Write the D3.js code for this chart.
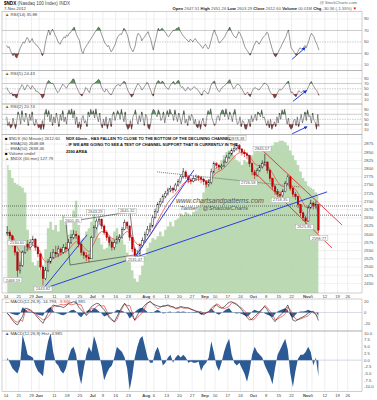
<!DOCTYPE html>
<html>
<head>
<meta charset="utf-8">
<script src="https://cdn.jsdelivr.net/npm/d3@7"></script>
<style>
  body { margin: 0; background: #fff; }
  svg text { font-family: "Liberation Sans", Arial, sans-serif; }
</style>
</head>
<body>
<div id="chart"></div>
<script>
// values, one per trading day (May 14 .. Nov 7 2012)
const holidays = ["2012-05-28", "2012-07-04", "2012-09-03", "2012-10-29", "2012-10-30", "2012-11-22"];

const closes = [2605,2595,2570,2545,2490,2505,2545,2570,2560,2575,
  2585,2560,2540,2500,2465,2490,2515,2530,2545,2540,
  2555,2545,2560,2555,2575,2590,2600,2595,2570,2545,
  2535,2530,2525,2590,2620,2640,2645,2625,2605,2590,
  2575,2560,2575,2585,2590,2615,2635,2625,2590,2555,
  2535,2540,2565,2580,2600,2615,2625,2650,2670,2690,
  2700,2715,2725,2735,2740,2735,2750,2760,2775,2790,
  2775,2765,2762,2770,2775,2772,2768,2760,2752,2758,
  2790,2815,2810,2805,2808,2820,2835,2845,2855,2862,
  2870,2860,2850,2845,2840,2815,2790,2780,2795,2805,
  2815,2820,2795,2770,2745,2730,2722,2718,2730,2755,
  2775,2740,2722,2715,2690,2665,2650,2640,2680,2695,
  2688,2690,2612.6];
const highs = [2625,2612,2598,2575,2548,2515,2550,2580,2582,2585,
  2595,2588,2565,2540,2505,2500,2525,2545,2555,2565,
  2565,2560,2570,2575,2585,2600,2612,2610,2598,2575,
  2550,2545,2540,2595,2628,2648,2652,2648,2630,2612,
  2595,2580,2582,2595,2600,2622,2645,2640,2628,2592,
  2560,2550,2572,2590,2608,2625,2635,2658,2678,2698,
  2710,2722,2732,2742,2748,2745,2756,2768,2782,2802,
  2795,2780,2772,2778,2782,2780,2778,2772,2765,2768,
  2800,2822,2820,2815,2815,2828,2842,2852,2862,2870,
  2878,2875,2862,2858,2850,2842,2818,2795,2802,2812,
  2825,2845,2822,2798,2772,2750,2738,2730,2738,2762,
  2782,2778,2745,2728,2718,2692,2668,2655,2688,2705,
  2700,2700,2692];
const lows = [2595,2585,2562,2535,2470,2480,2500,2540,2548,2552,
  2565,2550,2530,2490,2444,2460,2485,2510,2525,2530,
  2530,2535,2540,2545,2550,2570,2585,2585,2560,2535,
  2525,2518,2515,2525,2590,2615,2630,2615,2598,2580,
  2565,2550,2552,2570,2575,2585,2612,2615,2580,2545,
  2525,2522,2535,2560,2575,2595,2605,2620,2648,2665,
  2685,2695,2710,2718,2728,2725,2730,2745,2755,2770,
  2768,2755,2752,2758,2762,2762,2755,2750,2742,2745,
  2752,2785,2800,2795,2798,2805,2818,2830,2840,2850,
  2855,2850,2840,2835,2828,2805,2780,2768,2775,2790,
  2800,2808,2785,2760,2735,2720,2712,2710,2712,2728,
  2750,2732,2712,2705,2680,2655,2640,2626,2638,2678,
  2675,2678,2603];
// green overlay indicator behind price (0-100 panel scale)
const shade = [79,76,71,68,67,66,65,62,39,27,
  19,17,20,14,15,27,40,44,39,42,
  38,45,48,42,36,39,51,57,42,33,
  34,38,40,44,51,42,34,30,27,28,
  31,34,38,40,36,33,30,25,19,14,
  9,7,11,17,23,28,31,34,33,35,
  38,35,39,41,44,41,45,46,49,48,
  50,49,48,50,51,54,57,62,67,70,
  72,75,77,79,82,85,87,88,87,85,
  82,81,79,82,81,83,85,87,88,87,
  88,90,88,90,91,93,93,94,94,93,
  91,88,85,82,79,75,71,69,66,65,
  64,62,60];
// RSI panels: two readings per day
const rsi14 = [44,40,42,35,30,26,31,24,22,28,36,41,46,50,48,53,58,55,49,52,
  56,50,48,45,44,40,38,33,26,30,44,55,64,71,62,69,72,68,62,58,
  52,48,46,52,55,59,57,62,60,65,66,70,73,76,68,62,57,53,42,33,
  30,38,41,45,48,52,55,59,62,66,69,72,76,74,66,60,54,48,46,42,
  44,38,33,36,41,45,52,59,61,64,63,68,74,71,66,60,50,41,37,33,
  38,45,58,65,63,60,52,56,58,62,65,68,60,55,45,36,47,55,66,74,
  69,72,74,71,68,65,61,59,62,66,68,71,70,73,74,76,70,66,62,59,
  57,55,52,50,55,53,50,54,56,52,49,47,45,41,39,44,46,42,38,41,
  50,58,66,71,64,60,52,48,51,53,56,59,64,68,72,76,70,65,61,59,
  57,62,68,65,60,55,47,41,37,34,30,27,33,38,44,48,52,49,46,50,
  54,58,60,62,67,65,56,48,40,33,27,24,28,32,37,41,46,50,55,59,
  66,71,56,41,37,34,30,27,31,36,40,38,37,41,44,40,46,52,60,65,
  62,59,52,48,42,35.9];
const rsi5 = [55,45,38,30,35,22,28,18,15,35,48,55,66,60,45,52,65,62,55,48,
  62,55,50,40,42,35,32,25,14,20,45,60,75,82,76,70,72,65,55,45,
  35,40,50,58,68,62,58,52,62,70,74,80,88,85,68,55,45,35,28,22,
  32,40,55,50,42,35,55,65,68,72,76,80,86,82,62,50,42,38,50,45,
  36,30,28,35,48,55,62,65,66,60,68,72,79,75,58,45,35,28,18,25,
  40,50,62,70,64,58,45,50,58,65,74,70,56,45,30,22,48,62,75,82,
  76,70,80,75,62,55,52,48,60,68,74,78,66,72,80,82,64,55,58,50,
  42,45,56,52,44,48,54,58,55,50,44,40,30,25,38,45,40,35,30,42,
  60,70,76,80,62,50,42,38,48,55,58,62,68,72,80,85,70,60,50,55,
  62,68,66,62,52,45,35,28,32,38,26,20,35,45,52,55,50,48,45,52,
  58,65,72,70,66,62,45,35,30,25,15,18,30,40,48,45,50,55,62,68,
  75,80,55,35,38,30,24,20,32,42,40,35,40,45,36,40,50,60,72,78,
  66,58,50,45,35,24.4];
const rsi2 = [60,25,40,15,20,55,30,12,45,80,65,30,85,50,40,75,55,25,70,45,80,35,25,50,30,15,
  20,8,45,10,75,90,60,85,40,70,25,60,35,75,50,20,70,45,85,40,60,30,75,88,
  70,92,55,85,30,60,15,40,10,55,65,35,45,20,80,60,90,70,85,55,92,60,40,75,
  30,15,50,25,60,12,35,55,20,70,80,45,65,85,75,50,90,65,40,80,25,10,15,45,
  10,60,70,88,50,30,65,40,80,55,25,70,60,15,10,35,75,90,85,70,60,88,75,45,
  55,80,35,65,85,60,90,75,70,45,88,60,40,75,55,30,60,85,35,50,25,65,45,70,
  60,30,50,20,15,45,10,40,55,25,20,60,85,70,92,55,40,25,30,60,65,45,75,88,
  85,60,92,70,50,80,65,40,75,90,55,30,35,60,20,45,40,12,10,30,50,20,65,40,
  55,70,45,80,75,60,88,55,60,40,25,45,15,50,10,25,40,20,60,35,75,50,88,70,
  90,60,30,55,20,10,15,45,50,25,60,20,45,70,35,55,80,45,88,60,65,35,75,45,40,10,70,20.7];
const macdLine = [-1,-7,-14,-20,-23,-15,-7,8,7,5,
  1,-4,-10,-15,-20,-10,-1,8,14,12,
  11,11,9,12,17,18,20,19,10,5,
  0,-4,4,11,14,17,16,10,5,-2,
  -10,-14,-17,-8,2,10,17,10,2,-6,
  -14,-5,4,8,14,18,20,16,14,12,
  11,11,12,14,12,10,8,9,11,10,
  9,8,6,4,2,1,-2,-4,-1,2,
  8,12,14,10,8,10,15,19,20,17,
  14,10,5,-2,-9,-14,-12,-7,-3,2,
  7,11,5,-4,-11,-17,-10,-5,-1,6,
  14,0,-14,-16,-13,-10,-8,-5,-1,2,
  1,-3,-14.8];
const macdHist = [1,-1,-3,-4,-5,-2,9.5,6,2,1.5,
  1,-2,-4,-5,-6,2,7,10,3,-1,
  -2,-4,-5,-3,1,4,5,2,-5,-9,
  -3,2,5,3,9,6,2,-2,-7.5,-5,
  -3,-2,1,5,4,3,1,-3,-11,-6,
  1,5,8,9,5,1,-1,-1,3,5,
  2,-2,-1,1,2,-1,1,2,1,2,
  1,-1,-0.5,-1,-1,-0.5,-4,-2,-1,1,
  7,3,-2,-4,-1,3,6,8,2,-1,
  -2,-1,-3,-5,-8,-4,2,5,3,2,
  1,-2,-4,-6,-9,-3,2,4,6,8,
  4,-5,-10,-4,0.5,2,2,3,5,3,
  -2,1,-6];

const tickDates = ["2012-05-14","2012-05-21","2012-05-29","2012-06-01","2012-06-11","2012-06-18","2012-06-25",
  "2012-07-02","2012-07-09","2012-07-16","2012-07-23","2012-08-01","2012-08-06","2012-08-13","2012-08-20",
  "2012-08-27","2012-09-04","2012-09-10","2012-09-17","2012-09-24","2012-10-01","2012-10-08","2012-10-15",
  "2012-10-22","2012-11-01","2012-11-05","2012-11-12","2012-11-19","2012-11-26"];
const tickText = ["14","21","29","Jun","11","18","25","Jul","9","16","23","Aug","6","13","20",
  "27","Sep","10","17","24","Oct","8","15","22","Nov","5","12","19","26"];
const priceTicks = [2875,2850,2825,2800,2775,2750,2725,2700,2675,2650,2625,2600,2575,2550,2525,2500,2475,2450];
const rsiTicks = [90,70,50,30,10];
const macdTicks = [20,0,-20];
const histTicks = [10,7.5,5,2.5,0,-2.5,-5,-7.5,-10];

// price labels on the chart: day index, price, text
const noteIdx = [90.6,100.4,4.3,2.7,14.5,26,35,47.5,50.6,107.5,117,122.7,95];
const notePrice = [2893,2860,2573,2460,2433,2643,2668,2671,2524,2704,2622,2588,2756];
const noteText = ["2878.38","2845.57","2530.60","2468.59","2443.82","2601.35","2643.29","2645.32","2531.47","2718.35","2625.81","2598.77","2726.58"];

// hand-drawn lines: [day, price, day, price]
const blueLines = [[14.5,2433,31.8,2598],[14.5,2433,125.9,2729],[50.6,2530,73.7,2796]];
const redLines = [[100.4,2857,131.8,2628],[97.3,2790,127.8,2558]];
const boxPts = [[23.5,2637],[48.6,2668],[50.6,2537],[25.1,2506]];
const dotLevels = [2686,2658];
const dotLines = [[59.2,2790,115.3,2744]];
const rsiArrows = [[112.2,20,117.3,40],[112.5,2,117.8,43],[112.2,-8,118,20]];

// ---- trading day calendar ----
const days = [];
for (let d = new Date(Date.UTC(2012,4,14)); d <= new Date(Date.UTC(2012,10,30)); d.setUTCDate(d.getUTCDate()+1)) {
  const s = d.toISOString().slice(0,10), wd = d.getUTCDay();
  if (wd === 0 || wd === 6 || holidays.includes(s)) continue;
  days.push(s);
}
const tickIdx = tickDates.map(s => days.indexOf(s));

const L = 2, R = 362;
const x = d3.scaleLinear().domain([-1.57, 139.6]).range([L, R]);
const mid = i => x(i + 0.5);
const half = i => x(i / 2 + 0.25);

const svg = d3.select("#chart").append("svg")
  .attr("width", 377).attr("height", 400).style("display", "block");
const defs = svg.append("defs");
defs.append("marker").attr("id","arr").attr("viewBox","0 0 10 10").attr("refX",8).attr("refY",5)
  .attr("markerWidth",4).attr("markerHeight",4).attr("orient","auto")
  .append("path").attr("d","M0,0L10,5L0,10z").attr("fill","#1030e0");

let clipN = 0;
function panel(y0, y1) {
  const id = "c" + (clipN++);
  defs.append("clipPath").attr("id", id).append("rect")
    .attr("x", L).attr("y", y0).attr("width", R - L).attr("height", y1 - y0);
  const g = svg.append("g").attr("clip-path", `url(#${id})`);
  g.selectAll(null).data(tickIdx).join("line")
    .attr("x1", d => x(d)).attr("x2", d => x(d)).attr("y1", y0).attr("y2", y1)
    .attr("stroke", "#dedede").attr("stroke-width", 0.5);
  return g;
}
function frame(y0, y1) {
  svg.append("rect").attr("x", L).attr("y", y0).attr("width", R - L).attr("height", y1 - y0)
    .attr("fill", "none").attr("stroke", "#a0a0a0").attr("stroke-width", 0.5);
}
function rightLabels(vals, y, fmt) {
  svg.append("g").selectAll("text").data(vals).join("text")
    .attr("x", 364).attr("y", d => y(d)).attr("dy", "0.35em")
    .attr("font-size", 4.2).attr("fill", "#555").text(fmt || (d => d));
}
function hline(g, y, color, dash) {
  g.append("line").attr("x1", L).attr("x2", R).attr("y1", y).attr("y2", y)
    .attr("stroke", color).attr("stroke-width", 0.5).attr("stroke-dasharray", dash || null);
}
function legend(y, parts) {
  const t = svg.append("text").attr("x", 5).attr("y", y).attr("font-size", 4.3);
  parts.forEach(p => t.append("tspan").attr("fill", p[1]).attr("font-weight", p[2] ? "bold" : null).text(p[0]));
}

// ---- header ----
svg.append("text").attr("x", 4).attr("y", 5).attr("font-size", 4.6)
  .call(t => { t.append("tspan").attr("font-weight","bold").text("$NDX "); t.append("tspan").attr("fill","#444").text("(Nasdaq 100 Index)  INDX"); });
svg.append("text").attr("x", 4).attr("y", 10).attr("font-size", 4.2).attr("fill","#444").text("7-Nov-2012");
svg.append("text").attr("x", 357).attr("y", 4).attr("font-size", 4.2).attr("fill","#666").attr("text-anchor","end").text("@ StockCharts.com");
const hdr = svg.append("text").attr("x", 357).attr("y", 10).attr("font-size", 4.2).attr("text-anchor","end");
[["Open ",1],["2647.51  ",0],["High ",1],["2651.26  ",0],["Low ",1],["2603.29  ",0],["Close ",1],["2612.60  ",0],
 ["Volume ",1],["00.01M  ",0],["Chg ",1],["-30.36 (-1.55%) ",0]].forEach(p =>
  hdr.append("tspan").attr("font-weight", p[1] ? "bold" : null).attr("fill", p[1] ? "#222" : "#555").text(p[0]));
hdr.append("tspan").attr("fill","#d00").text("▼");

// ---- RSI panels ----
function rsiPanel(vals, pos, y, y0, y1, title, arrow) {
  const g = panel(y0, y1);
  hline(g, y(90), "#e4e4e4"); hline(g, y(10), "#e4e4e4");
  hline(g, y(70), "#9a9a9a"); hline(g, y(30), "#9a9a9a"); hline(g, y(50), "#9a9a9a", "1.5,1");
  g.append("path").datum(vals).attr("fill", "#5e925e")
    .attr("d", d3.area().x((d, i) => pos(i)).y0(y(70)).y1(d => y(Math.max(d, 70))));
  g.append("path").datum(vals).attr("fill", "#923c3c")
    .attr("d", d3.area().x((d, i) => pos(i)).y0(y(30)).y1(d => y(Math.min(d, 30))));
  g.append("path").datum(vals).attr("fill", "none").attr("stroke", "#333").attr("stroke-width", 0.5)
    .attr("d", d3.line().x((d, i) => pos(i)).y(d => y(d)));
  frame(y0, y1);
  rightLabels(rsiTicks, y);
  svg.append("line").attr("x1", x(arrow[0])).attr("y1", y(arrow[1])).attr("x2", x(arrow[2])).attr("y2", y(arrow[3]))
    .attr("stroke", "#1030e0").attr("stroke-width", 0.9).attr("marker-end", "url(#arr)");
  legend(y0 + 4, [["▲ ", "#3a7a3a"], [title, "#444"]]);
}
const yR1 = d3.scaleLinear().domain([10, 90]).range([65, 19]);
const yR2 = d3.scaleLinear().domain([10, 90]).range([99.3, 78.3]);
const yR3 = d3.scaleLinear().domain([10, 90]).range([129.3, 109.3]);
rsiPanel(rsi14, half, yR1, 11.5, 70.5, "RSI(14) 35.88", rsiArrows[0]);
rsiPanel(rsi5, half, yR2, 70.5, 104, "RSI(5) 24.43", rsiArrows[1]);
rsiPanel(rsi2, half, yR3, 104, 134.5, "RSI(2) 20.74", rsiArrows[2]);

// ---- main price panel ----
const yP = d3.scaleLinear().domain([2450, 2875]).range([283.4, 144]);
const yS = d3.scaleLinear().domain([0, 100]).range([293, 131]);
const gm = panel(134.5, 293);
gm.selectAll(null).data(priceTicks).join("line")
  .attr("x1", L).attr("x2", R).attr("y1", d => yP(d)).attr("y2", d => yP(d))
  .attr("stroke", "#e2e2e2").attr("stroke-width", 0.5);
gm.append("path").datum(shade).attr("fill", "#b4d5ab").attr("fill-opacity", 0.9)
  .attr("d", d3.area().x((d, i) => mid(i)).y0(293).y1(d => yS(d)).curve(d3.curveStep));

dotLevels.forEach(p => gm.append("line").attr("x1", L).attr("x2", R).attr("y1", yP(p)).attr("y2", yP(p))
  .attr("stroke", "#222").attr("stroke-width", 0.6).attr("stroke-dasharray", "1,1"));
dotLines.forEach(s => gm.append("line").attr("x1", x(s[0])).attr("y1", yP(s[1])).attr("x2", x(s[2])).attr("y2", yP(s[3]))
  .attr("stroke", "#222").attr("stroke-width", 0.6).attr("stroke-dasharray", "1,1"));
gm.append("polygon").attr("points", boxPts.map(p => [x(p[0]), yP(p[1])].join(",")).join(" "))
  .attr("fill", "none").attr("stroke", "#333").attr("stroke-width", 0.6);

function ema(arr, n) { const k = 2 / (n + 1); let e = arr[0]; return arr.map(v => (e = e + k * (v - e))); }
const emaFast = ema(closes, 20 / 7), emaSlow = ema(closes, 50 / 7);
gm.append("path").datum(emaSlow).attr("fill", "none").attr("stroke", "#f05050").attr("stroke-width", 0.8)
  .attr("d", d3.line().x((d, i) => mid(i)).y(d => yP(d)));
gm.append("path").datum(emaFast).attr("fill", "none").attr("stroke", "#7c9fd4").attr("stroke-width", 0.6)
  .attr("d", d3.line().x((d, i) => mid(i)).y(d => yP(d)));

const bars = closes.map((c, i) => ({ i, c, o: i ? closes[i - 1] : c, h: highs[i], l: lows[i] }));
const cg = gm.append("g");
cg.selectAll("line").data(bars).join("line")
  .attr("x1", d => mid(d.i)).attr("x2", d => mid(d.i)).attr("y1", d => yP(d.h)).attr("y2", d => yP(d.l))
  .attr("stroke", d => d.c >= d.o ? "#111" : "#c00").attr("stroke-width", 0.6);
cg.selectAll("rect").data(bars).join("rect")
  .attr("x", d => mid(d.i) - 0.8).attr("width", 1.6)
  .attr("y", d => yP(Math.max(d.o, d.c))).attr("height", d => Math.max(0.6, Math.abs(yP(d.o) - yP(d.c))))
  .attr("fill", d => d.c >= d.o ? "#fff" : "#c00").attr("stroke", d => d.c >= d.o ? "#111" : "#900").attr("stroke-width", 0.4);

blueLines.forEach(s => gm.append("line").attr("x1", x(s[0])).attr("y1", yP(s[1])).attr("x2", x(s[2])).attr("y2", yP(s[3]))
  .attr("stroke", "#1a2ee6").attr("stroke-width", 0.9));
redLines.forEach(s => gm.append("line").attr("x1", x(s[0])).attr("y1", yP(s[1])).attr("x2", x(s[2])).attr("y2", yP(s[3]))
  .attr("stroke", "#e81818").attr("stroke-width", 0.8));

const notes = gm.append("g").selectAll("g").data(noteText).join("g")
  .attr("transform", (d, k) => `translate(${x(noteIdx[k])},${yP(notePrice[k])})`);
notes.append("rect").attr("x", -9).attr("y", -2.6).attr("width", 18).attr("height", 5.2)
  .attr("fill", "#fff").attr("stroke", "#999").attr("stroke-width", 0.4);
notes.append("text").attr("text-anchor", "middle").attr("dy", "0.35em").attr("font-size", 4).attr("fill", "#555").text(d => d);

frame(134.5, 293);
rightLabels(priceTicks, yP);

legend(139.5, [["■ ", "#000"], ["$NDX (60 Minute) 2612.60", "#444"]]);
legend(144.5, [["— ", "#7c9fd4"], ["EMA(20) " + emaFast[emaFast.length - 1].toFixed(2), "#444"]]);
legend(149.5, [["— ", "#f05050"], ["EMA(50) " + emaSlow[emaSlow.length - 1].toFixed(2), "#444"]]);
legend(154.5, [["■ ", "#000"], ["Volume undef", "#444"]]);
legend(159.5, [["▲ ", "#5a9a5a"], ["$NDX (60 min) 127.79", "#444"]]);

const msg = ["NDX 60min - HAS FALLEN TO CLOSE TO THE BOTTOM OF THE DECLINING CHANNEL",
  "- IF WE ARE GOING TO SEE A TEST OF CHANNEL SUPPORT THAT IS CURRENTLY IN THE", "2590 AREA"];
msg.forEach((m, k) => svg.append("text").attr("x", 66).attr("y", 140 + k * 6.3).attr("font-size", 4)
  .attr("font-weight", "bold").attr("fill", "#111").text(m));

svg.append("text").attr("x", 176).attr("y", 203).attr("font-size", 7).attr("font-style", "italic")
  .attr("font-family", "Liberation Serif, serif").attr("fill", "#555").text("www.chartsandpatterns.com");
svg.append("text").attr("x", 180).attr("y", 210).attr("font-size", 6).attr("font-style", "italic")
  .attr("font-family", "Liberation Serif, serif").attr("fill", "#555").text("Twitter : @ShadowCharts");

// date labels between price and MACD, and at the bottom
function dateLabels(y) {
  svg.append("g").selectAll("text").data(tickText).join("text")
    .attr("x", (d, k) => x(tickIdx[k])).attr("y", y).attr("text-anchor", "middle").attr("font-size", 4.2)
    .attr("font-weight", d => isNaN(+d) ? "bold" : null).attr("fill", "#444").text(d => d);
}
dateLabels(297.5);

// ---- MACD ----
const yM = d3.scaleLinear().domain([-20, 20]).range([323.3, 301.7]);
const signal = macdLine.map((m, i) => m - macdHist[i]);
const gmac = panel(299, 331);
hline(gmac, yM(0), "#b8b8c8");
gmac.append("path").datum(macdHist).attr("fill", "#2c5a94")
  .attr("d", d3.area().x((d, i) => mid(i)).y0(yM(0)).y1(d => yM(d)));
gmac.append("path").datum(signal).attr("fill", "none").attr("stroke", "#e04040").attr("stroke-width", 0.7)
  .attr("d", d3.line().x((d, i) => mid(i)).y(d => yM(d)));
gmac.append("path").datum(macdLine).attr("fill", "none").attr("stroke", "#111").attr("stroke-width", 0.6)
  .attr("d", d3.line().x((d, i) => mid(i)).y(d => yM(d)));
frame(299, 331);
rightLabels(macdTicks, yM);
legend(303, [["— ", "#111"], ["MACD(12,26,9) -14.793, ", "#444"], ["-9.806", "#e04040"], [", ", "#444"], ["-4.985", "#2c5a94"]]);

const yH = d3.scaleLinear().domain([-10, 10]).range([387, 333.3]);
const gh = panel(331, 391.5);
hline(gh, yH(0), "#a8b0c8");
gh.append("path").datum(macdHist).attr("fill", "#2c5a94")
  .attr("d", d3.area().x((d, i) => mid(i)).y0(yH(0)).y1(d => yH(d)));
frame(331, 391.5);
rightLabels(histTicks, yH, d => d.toFixed(1));
legend(335, [["▲ ", "#2c5a94"], ["MACD(12,26,9) Hist -4.985", "#444"]]);
dateLabels(396.5);
</script>
</body>
</html>
